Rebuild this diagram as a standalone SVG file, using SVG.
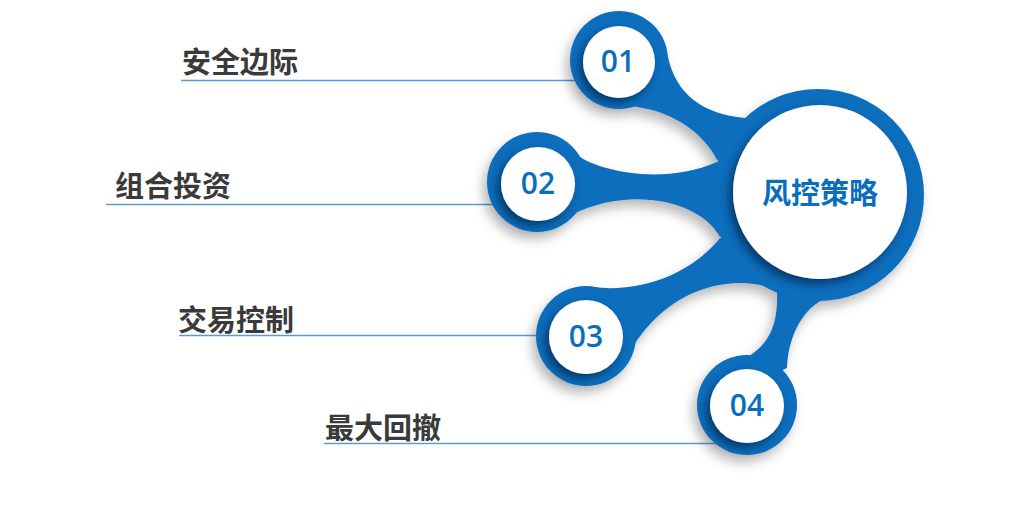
<svg xmlns="http://www.w3.org/2000/svg" width="1020" height="532" viewBox="0 0 1020 532">
  <defs>
    <filter id="outerShadow" x="-20%" y="-20%" width="140%" height="140%">
      <feDropShadow dx="-4" dy="7" stdDeviation="6" flood-color="#000" flood-opacity="0.28"/>
    </filter>
    <filter id="innerShadow" x="-30%" y="-30%" width="160%" height="160%">
      <feDropShadow dx="-4" dy="5" stdDeviation="5" flood-color="#022a4f" flood-opacity="0.75"/>
    </filter>
  </defs>
  <style>
    .blue { fill: #0a6ebd; }
    .hole { fill: #ffffff; filter: url(#innerShadow); }
    .label { font-family: "Noto Sans CJK SC", sans-serif; font-weight: bold; font-size: 29px; fill: #3a3a3a; }
    .num { font-family: "Open Sans", "Liberation Sans", sans-serif; font-weight: 600; font-size: 30px; fill: #0a6ebd; text-anchor: middle; }
    .center { font-family: "Noto Sans CJK SC", sans-serif; font-weight: bold; font-size: 29px; fill: #0a6ebd; text-anchor: middle; }
    .rule { stroke: #5b9bd5; stroke-width: 1.5; fill: none; }
  </style>
  <rect width="1020" height="532" fill="#ffffff"/>

  <g id="connectors">
    <line class="rule" x1="181" y1="80.5" x2="600" y2="80.5"/>
    <line class="rule" x1="106" y1="204.5" x2="520" y2="204.5"/>
    <line class="rule" x1="179" y1="335.5" x2="560" y2="335.5"/>
    <line class="rule" x1="324" y1="443.5" x2="720" y2="443.5"/>
  </g>

  <g id="blob" filter="url(#outerShadow)">
    <path class="blue" d="M662,40 L668,57 Q680,112 745,118 L780,150 L717,160 C705,135 675,112 637,107 L615,100 Z"/>
    <path class="blue" d="M570,150 L577,155 C600,172 665,185 717,162 L760,190 L720,237 C700,200 630,186 573,214 L560,200 Z"/>
    <path class="blue" d="M580,300 L592,287 C640,293 690,275 720,238 L770,250 L777,292 C760,278 680,270 632,348 L600,330 Z"/>
    <path class="blue" d="M745,360 L752,354 C772,340 778,320 777,292 L820,290 L822,300 C800,312 788,340 787,368 L760,380 Z"/>
    <circle class="blue" cx="818" cy="195" r="106"/>
    <circle class="blue" cx="619" cy="60" r="49"/>
    <circle class="blue" cx="537" cy="182" r="50"/>
    <circle class="blue" cx="586" cy="336" r="50"/>
    <circle class="blue" cx="747" cy="405" r="50"/>
  </g>

  <g id="node-center">
    <circle class="hole" cx="820" cy="192" r="87"/>
    <text class="center" x="820" y="204">风控策略</text>
  </g>
  <g id="node-01">
    <circle class="hole" cx="619" cy="62" r="36"/>
    <text class="num" x="618" y="72">01</text>
    <text class="label" x="182" y="73">安全边际</text>
  </g>
  <g id="node-02">
    <circle class="hole" cx="538" cy="184" r="37"/>
    <text class="num" x="538" y="194">02</text>
    <text class="label" x="115" y="197">组合投资</text>
  </g>
  <g id="node-03">
    <circle class="hole" cx="586" cy="337" r="37"/>
    <text class="num" x="586" y="347">03</text>
    <text class="label" x="178" y="331">交易控制</text>
  </g>
  <g id="node-04">
    <circle class="hole" cx="747" cy="406" r="37"/>
    <text class="num" x="747" y="416">04</text>
    <text class="label" x="325" y="439">最大回撤</text>
  </g>
</svg>
